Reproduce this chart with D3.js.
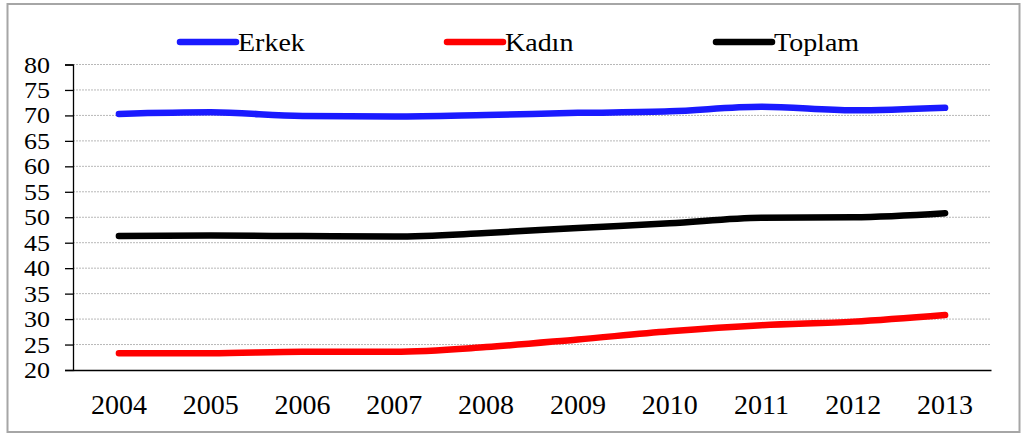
<!DOCTYPE html>
<html>
<head>
<meta charset="utf-8">
<script src="https://cdn.jsdelivr.net/npm/d3@7"></script>
<style>
  html, body { margin: 0; padding: 0; background: #fff; }
  svg { display: block; }
</style>
</head>
<body>
<svg id="chart" width="1026" height="435" font-family="'Liberation Serif', 'Times New Roman', Times, 'DejaVu Serif', serif"></svg>
<script>
const years = ["2004","2005","2006","2007","2008","2009","2010","2011","2012","2013"];
const erkek  = [70.3, 70.6, 69.9, 69.8, 70.1, 70.5, 70.8, 71.7, 71.0, 71.5];
const kadin  = [23.3, 23.3, 23.6, 23.6, 24.5, 26.0, 27.6, 28.8, 29.5, 30.8];
const toplam = [46.3, 46.4, 46.3, 46.2, 46.9, 47.9, 48.8, 49.9, 50.0, 50.8];
const seriesNames = ["Erkek", "Kadın", "Toplam"];
const seriesColors = ["#1a1aff", "#ff0000", "#000000"];
const yTicks = [20, 25, 30, 35, 40, 45, 50, 55, 60, 65, 70, 75, 80];

const FONT = "'Liberation Serif', 'Times New Roman', Times, 'DejaVu Serif', serif";
const svg = d3.select("#chart");

// outer border
svg.append("rect")
  .attr("x", 7.5).attr("y", 4).attr("width", 1012).attr("height", 428)
  .attr("fill", "none").attr("stroke", "#a6a6a6").attr("stroke-width", 2);

const plotLeft = 73, plotRight = 991, plotTop = 64.5, plotBottom = 370;
const x = d3.scaleBand().domain(years).range([plotLeft, plotRight]);
const y = d3.scaleLinear().domain([20, 80]).range([plotBottom, plotTop]);
const cx = d => x(d) + x.bandwidth() / 2;

// gridlines
svg.append("g").selectAll("line")
  .data(yTicks.filter(t => t !== 20))
  .join("line")
  .attr("x1", plotLeft).attr("x2", plotRight)
  .attr("y1", d => y(d)).attr("y2", d => y(d))
  .attr("stroke", "#b8b8b8").attr("stroke-width", 1)
  .attr("stroke-dasharray", "2,1");

// y axis
const yAxis = d3.axisLeft(y).tickValues(yTicks).tickSize(8).tickFormat("");
const gy = svg.append("g").attr("transform", `translate(${plotLeft},0)`).call(yAxis);
gy.select(".domain").attr("stroke", "#000").attr("stroke-width", 1.3);
gy.selectAll(".tick line").attr("stroke", "#000").attr("stroke-width", 1.3);

// y labels
svg.append("g").selectAll("text")
  .data(yTicks)
  .join("text")
  .attr("font-family", FONT)
  .attr("fill", "#000")
  .attr("text-anchor", "end")
  .attr("font-size", 26)
  .attr("transform", d => `translate(50,${y(d) + 8}) scale(1,0.86)`)
  .text(d => d);

// x axis line
const xAxis = d3.axisBottom(x).tickSize(0).tickFormat("");
const gx = svg.append("g").attr("transform", `translate(0,${plotBottom})`).call(xAxis);
gx.select(".domain").attr("stroke", "#000").attr("stroke-width", 1.3);

// x labels
svg.append("g").selectAll("text")
  .data(years)
  .join("text")
  .attr("font-family", FONT)
  .attr("fill", "#000")
  .attr("x", d => cx(d)).attr("y", 414)
  .attr("text-anchor", "middle")
  .attr("font-size", 28)
  .text(d => d);

// lines
const data = [erkek, kadin, toplam];
const line = d3.line()
  .x((d, i) => cx(years[i]))
  .y(d => y(d))
  .curve(d3.curveMonotoneX);

svg.append("g").selectAll("path")
  .data(data)
  .join("path")
  .attr("d", d => line(d))
  .attr("fill", "none")
  .attr("stroke", (d, i) => seriesColors[i])
  .attr("stroke-width", 6.5)
  .attr("stroke-linecap", "round")
  .attr("stroke-linejoin", "round");

// legend
const legendLineX = [180, 447, 716];
const leg = svg.append("g").selectAll("g")
  .data(seriesNames)
  .join("g");
leg.append("line")
  .attr("x1", (d, i) => legendLineX[i]).attr("x2", (d, i) => legendLineX[i] + 56)
  .attr("y1", 42).attr("y2", 42)
  .attr("stroke", (d, i) => seriesColors[i])
  .attr("stroke-width", 6.5)
  .attr("stroke-linecap", "round");
leg.append("text")
  .attr("font-family", FONT)
  .attr("fill", "#000")
  .attr("font-size", 28)
  .attr("transform", (d, i) => `translate(${legendLineX[i] + 58},51) scale(1,0.88)`)
  .text(d => d);
</script>
</body>
</html>
